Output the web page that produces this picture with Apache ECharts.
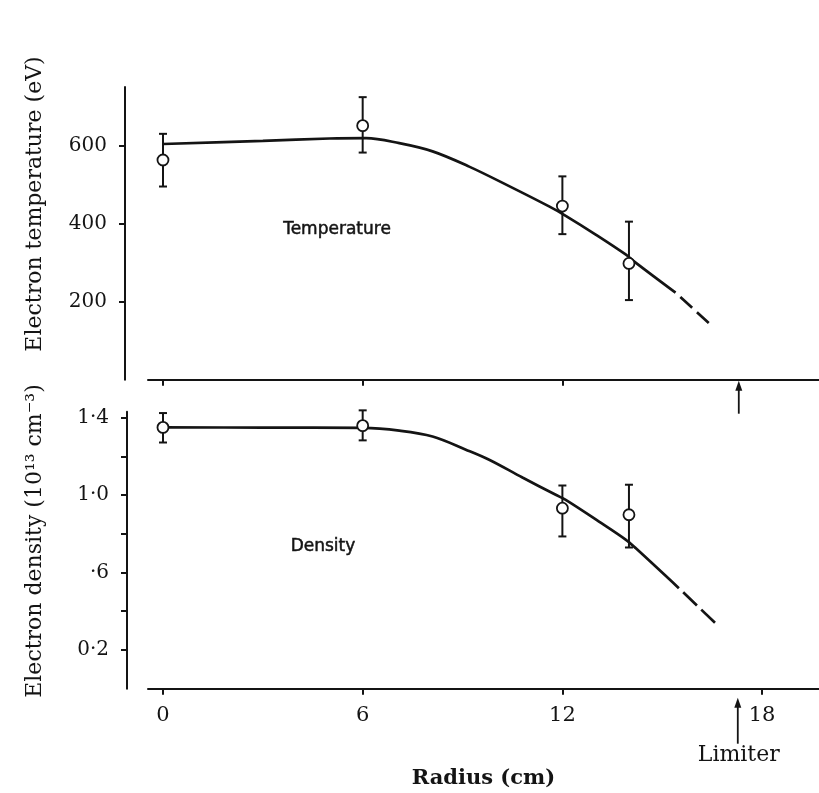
<!DOCTYPE html>
<html>
<head>
<meta charset="utf-8">
<title>Electron temperature and density profiles</title>
<script src="https://cdn.jsdelivr.net/npm/echarts@6/dist/echarts.min.js"></script>
<style>
  html, body { margin: 0; padding: 0; background: #ffffff; }
  #main { width: 819px; height: 793px; }
</style>
</head>
<body>
<div id="main"></div>
<script>
// Radial profiles: measured points with error bars and the fitted curves.
const radiusTicks = [0, 6, 12, 18];
const radiusTicksTop = [0, 6, 12];
const tempTicks = [200, 400, 600];
const densTickMarks = [0.2, 0.4, 0.6, 0.8, 1.0, 1.2, 1.4];
const densTickValues = [0.2, 0.6, 1.0, 1.4];
const densTickLabels = ['0·2', '·6', '1·0', '1·4'];

// Measurements (radius in cm)
const measRadius = [0, 6, 12, 14];
const tempMeasured = [563, 651, 445, 298];
const tempLow = [495, 582, 373, 204];
const tempHigh = [630, 724, 521, 405];
const densMeasured = [1.349, 1.358, 0.932, 0.898];
const densLow = [1.271, 1.282, 0.786, 0.729];
const densHigh = [1.423, 1.437, 1.049, 1.053];

// Fitted curves: solid part, then the dashed extrapolation
const tempFitRadius = [0, 3, 5, 6.1, 7.1, 8.1, 9.2, 10.4, 11.6, 12.1, 13.0, 13.9, 14.2, 15.4];
const tempFit = [604, 612, 618, 619, 606, 585, 546, 496, 444, 420, 372, 321, 300, 223];
const tempExtRadius = [15.4, 16.4];
const tempExt = [223, 145];

const densFitRadius = [0, 3, 6, 7.1, 8.1, 9.1, 9.8, 10.8, 11.8, 12.1, 13.1, 13.9, 14.2, 15.5];
const densFit = [1.349, 1.348, 1.346, 1.332, 1.302, 1.234, 1.182, 1.09, 1.001, 0.975, 0.863, 0.77, 0.726, 0.519];
const densExtRadius = [15.5, 16.6];
const densExt = [0.519, 0.338];

const limiterRadius = 17.3;

const INK = '#141414';
const SERIF = '"DejaVu Serif", "Liberation Serif", serif';
const SANS = '"DejaVu Sans", sans-serif';

const zip = (xs, ys) => xs.map((x, i) => [x, ys[i]]);
const bars = (xs, lo, hi) => xs.map((x, i) => [x, lo[i], hi[i]]);

function errorBarItem(params, api) {
  const r = api.value(0);
  const lo = api.coord([r, api.value(1)]);
  const hi = api.coord([r, api.value(2)]);
  const cap = 4;
  const style = { stroke: INK, lineWidth: 2 };
  return {
    type: 'group',
    children: [
      { type: 'line', shape: { x1: lo[0], y1: lo[1], x2: hi[0], y2: hi[1] }, style: style },
      { type: 'line', shape: { x1: hi[0] - cap, y1: hi[1], x2: hi[0] + cap, y2: hi[1] }, style: style },
      { type: 'line', shape: { x1: lo[0] - cap, y1: lo[1], x2: lo[0] + cap, y2: lo[1] }, style: style }
    ]
  };
}

const axisLineStyle = { show: true, onZero: false, lineStyle: { color: INK, width: 2 } };

function xAxisFor(gridIndex, ticks, showLabels) {
  return {
    type: 'value', gridIndex: gridIndex, min: -0.45, max: 19.71,
    axisLine: axisLineStyle,
    axisTick: { show: true, customValues: ticks, length: 6, lineStyle: { color: INK, width: 2 } },
    axisLabel: {
      show: showLabels, customValues: ticks, margin: 16,
      fontFamily: SERIF, fontSize: 21, color: INK
    },
    splitLine: { show: false }
  };
}

const chart = echarts.init(document.getElementById('main'), null, { renderer: 'canvas' });

chart.setOption({
  animation: false,
  backgroundColor: '#ffffff',
  grid: [
    { left: 148, top: 87, width: 671, height: 292.7 },
    { left: 148, top: 411.7, width: 671, height: 277 }
  ],
  xAxis: [
    xAxisFor(0, radiusTicksTop, false),
    Object.assign(xAxisFor(1, radiusTicks, true), {
      name: 'Radius (cm)', nameLocation: 'middle', nameGap: 79,
      nameTextStyle: { fontFamily: SERIF, fontSize: 21, fontWeight: 'bold', color: INK }
    })
  ],
  yAxis: [
    {
      type: 'value', gridIndex: 0, min: 0, max: 750, offset: 23,
      axisLine: axisLineStyle,
      axisTick: { show: true, customValues: tempTicks, length: 6, lineStyle: { color: INK, width: 2 } },
      axisLabel: { customValues: tempTicks, margin: 18, fontFamily: SERIF, fontSize: 20, color: INK },
      splitLine: { show: false }
    },
    {
      type: 'value', gridIndex: 1, min: 0, max: 1.43, offset: 21,
      axisLine: axisLineStyle,
      axisTick: { show: true, customValues: densTickMarks, length: 6, lineStyle: { color: INK, width: 2 } },
      axisLabel: {
        customValues: densTickValues, margin: 18, fontFamily: SERIF, fontSize: 20, color: INK,
        formatter: function (v) {
          const i = densTickValues.findIndex(t => Math.abs(t - v) < 1e-6);
          return i >= 0 ? densTickLabels[i] : '';
        }
      },
      splitLine: { show: false }
    }
  ],
  series: [
    {
      name: 'Temperature fit', type: 'line', xAxisIndex: 0, yAxisIndex: 0,
      data: zip(tempFitRadius, tempFit), smooth: 0.35,
      showSymbol: false, lineStyle: { color: INK, width: 2.7 }, z: 2
    },
    {
      name: 'Temperature extrapolation', type: 'line', xAxisIndex: 0, yAxisIndex: 0,
      data: zip(tempExtRadius, tempExt), showSymbol: false,
      lineStyle: { color: INK, width: 2.7, type: [16, 6.5], dashOffset: 16 }, z: 2
    },
    {
      name: 'Temperature error', type: 'custom', xAxisIndex: 0, yAxisIndex: 0,
      renderItem: errorBarItem, data: bars(measRadius, tempLow, tempHigh),
      encode: { x: 0, y: [1, 2] }, z: 3
    },
    {
      name: 'Temperature', type: 'scatter', xAxisIndex: 0, yAxisIndex: 0,
      data: zip(measRadius, tempMeasured), symbol: 'circle', symbolSize: 11,
      itemStyle: { color: '#ffffff', borderColor: INK, borderWidth: 1.8, opacity: 1 }, z: 4
    },
    {
      name: 'Density fit', type: 'line', xAxisIndex: 1, yAxisIndex: 1,
      data: zip(densFitRadius, densFit), smooth: 0.35,
      showSymbol: false, lineStyle: { color: INK, width: 2.7 }, z: 2
    },
    {
      name: 'Density extrapolation', type: 'line', xAxisIndex: 1, yAxisIndex: 1,
      data: zip(densExtRadius, densExt), showSymbol: false,
      lineStyle: { color: INK, width: 2.7, type: [19, 6], dashOffset: 19 }, z: 2
    },
    {
      name: 'Density error', type: 'custom', xAxisIndex: 1, yAxisIndex: 1,
      renderItem: errorBarItem, data: bars(measRadius, densLow, densHigh),
      encode: { x: 0, y: [1, 2] }, z: 3
    },
    {
      name: 'Density', type: 'scatter', xAxisIndex: 1, yAxisIndex: 1,
      data: zip(measRadius, densMeasured), symbol: 'circle', symbolSize: 11,
      itemStyle: { color: '#ffffff', borderColor: INK, borderWidth: 1.8, opacity: 1 }, z: 4
    }
  ]
});

// Limiter position, axis titles and panel captions
const topAxisPt = chart.convertToPixel({ gridIndex: 0 }, [limiterRadius, 0]);
const botAxisPt = chart.convertToPixel({ gridIndex: 1 }, [limiterRadius, 0]);

function upArrow(x, yTip, yBase) {
  return {
    type: 'group',
    children: [
      { type: 'line', shape: { x1: x, y1: yBase, x2: x, y2: yTip + 6 }, style: { stroke: INK, lineWidth: 1.8 } },
      { type: 'polygon', shape: { points: [[x, yTip], [x - 3.5, yTip + 10], [x + 3.5, yTip + 10]] }, style: { fill: INK } }
    ]
  };
}

chart.setOption({
  graphic: [
    upArrow(topAxisPt[0], topAxisPt[1] + 1, topAxisPt[1] + 34),
    upArrow(botAxisPt[0] - 1, botAxisPt[1] + 9, botAxisPt[1] + 55),
    {
      type: 'text', x: botAxisPt[0], y: botAxisPt[1] + 67,
      style: { text: 'Limiter', font: '22px ' + SERIF, fill: INK, align: 'center', verticalAlign: 'middle' }
    },
    {
      type: 'text', x: 35, y: 204, rotation: Math.PI / 2,
      style: { text: 'Electron temperature (eV)', font: '22px ' + SERIF, fill: INK, align: 'center', verticalAlign: 'middle' }
    },
    {
      type: 'text', x: 35, y: 541, rotation: Math.PI / 2,
      style: { text: 'Electron density (10¹³ cm⁻³)', font: '22px ' + SERIF, fill: INK, align: 'center', verticalAlign: 'middle' }
    },
    {
      type: 'text', x: 337, y: 230,
      style: { text: 'Temperature', font: '17px ' + SANS, fill: INK, stroke: INK, lineWidth: 0.5, align: 'center', verticalAlign: 'middle' }
    },
    {
      type: 'text', x: 323, y: 547,
      style: { text: 'Density', font: '17px ' + SANS, fill: INK, stroke: INK, lineWidth: 0.5, align: 'center', verticalAlign: 'middle' }
    }
  ]
});
</script>
</body>
</html>
